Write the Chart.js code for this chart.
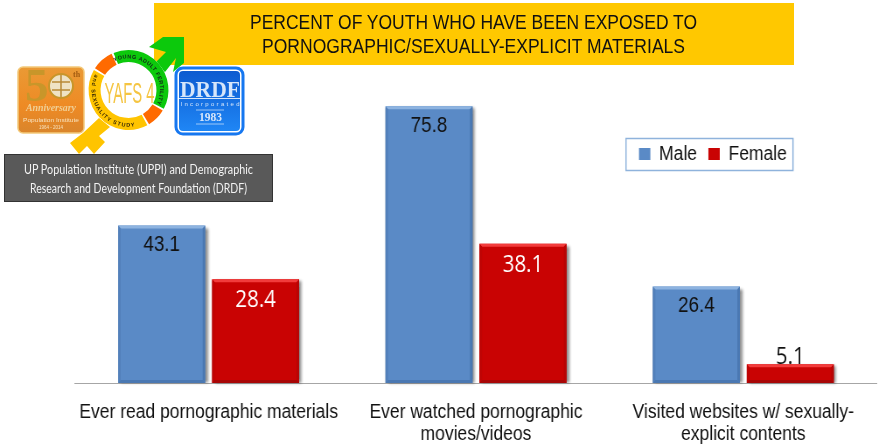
<!DOCTYPE html>
<html><head><meta charset="utf-8">
<style>
html,body{margin:0;padding:0;background:#fff;width:879px;height:446px;overflow:hidden}
#wrap{position:relative;width:879px;height:446px;overflow:hidden}
#c{position:absolute;left:0;top:0;transform-origin:0 0;transform:scaleX(.8746)}
#logos{position:absolute;left:0;top:0}
</style></head><body>
<div id="wrap">
<canvas id="c" width="1005" height="446"></canvas>
<svg id="logos" width="879" height="210" viewBox="0 0 879 210">
<defs>
<linearGradient id="gO" x1="0" y1="0" x2="0" y2="1"><stop offset="0" stop-color="#ea9a35"/><stop offset=".6" stop-color="#ee8a24"/><stop offset="1" stop-color="#d9852c"/></linearGradient>
<linearGradient id="gB" x1="0" y1="0" x2="0" y2="1"><stop offset="0" stop-color="#0d5bd0"/><stop offset="1" stop-color="#1f86f5"/></linearGradient>
<path id="arcT" d="M114.5,61.7 A31.5,31.5 0 0 1 157,103.3"/>
<path id="arcB" d="M95,74.4 A37,37 0 0 0 144.1,123.5"/>
</defs>
<rect x="154" y="3" width="640" height="62" fill="#ffc800"/>
<text x="473.5" y="29" text-anchor="middle" font-family="Liberation Sans" font-size="20" fill="#111" textLength="447" lengthAdjust="spacingAndGlyphs">PERCENT OF YOUTH WHO HAVE BEEN EXPOSED TO</text>
<text x="473.5" y="53" text-anchor="middle" font-family="Liberation Sans" font-size="20" fill="#111" textLength="423" lengthAdjust="spacingAndGlyphs">PORNOGRAPHIC/SEXUALLY-EXPLICIT MATERIALS</text>
<polygon points="163,37 184,37 184,63 173,72 176,58 165,72 155,63 166,52 149,47" fill="#0cc90c"/>
<polygon points="99,118 110,127 99,136 105,142 94,154 87,146 79,154 70,143 83,133" fill="#ffc400"/>
<rect x="18" y="67" width="66" height="66" rx="5" fill="url(#gO)" stroke="#f3c97a" stroke-width="1.5"/>
<text x="25" y="101" font-family="Liberation Serif" font-size="47" font-weight="bold" fill="#c8962a">5</text>
<circle cx="61" cy="86" r="12" fill="#efe3c4" stroke="#c8962a" stroke-width="2"/>
<path d="M52,82 h18 M52,90 h18 M61,75 v22" stroke="#b98a36" stroke-width="1.5"/>
<text x="73" y="77" font-family="Liberation Serif" font-size="8" font-weight="bold" fill="#a05a10">th</text>
<text x="51" y="111" text-anchor="middle" font-family="Liberation Serif" font-size="10" font-style="italic" font-weight="bold" fill="#f0cf95" textLength="50" lengthAdjust="spacingAndGlyphs">Anniversary</text>
<text x="51" y="122" text-anchor="middle" font-family="Liberation Sans" font-size="5" fill="#f8e2bd" textLength="56" lengthAdjust="spacingAndGlyphs">Population Institute</text>
<text x="51" y="129" text-anchor="middle" font-family="Liberation Sans" font-size="4.5" fill="#f8e2bd">1964 - 2014</text>
<circle cx="128.5" cy="90" r="40" fill="#fff"/>
<g fill="none" stroke-width="12">
<path d="M115.8,58.5 A34,34 0 0 1 158.5,106" stroke="#0cc90c"/>
<path d="M144.5,120 A34,34 0 0 1 99.1,73" stroke="#ffc400"/>
<path d="M157.6,107.5 A34,34 0 0 1 146,119.1" stroke="#ff6a00"/>
<path d="M100,71.5 A34,34 0 0 1 114.1,59.2" stroke="#ff6a00"/>
</g>
<text font-family="Liberation Sans" font-size="5.5" font-weight="bold" fill="#13261a"><textPath href="#arcT" textLength="78">YOUNG ADULT FERTILITY</textPath></text>
<text font-family="Liberation Sans" font-size="5.5" font-weight="bold" fill="#3a2a05"><textPath href="#arcB" textLength="80">and SEXUALITY STUDY</textPath></text>
<text x="129.5" y="103" text-anchor="middle" font-family="Liberation Sans" font-size="29" fill="#f5c542" textLength="50" lengthAdjust="spacingAndGlyphs">YAFS 4</text>
<rect x="176" y="68" width="67" height="66" rx="7" fill="#fff" stroke="#1677f0" stroke-width="3"/>
<rect x="179" y="71" width="61" height="60" rx="4" fill="url(#gB)"/>
<text x="210" y="97" text-anchor="middle" font-family="Liberation Serif" font-weight="bold" font-size="24" fill="#d6e6fa" textLength="60" lengthAdjust="spacingAndGlyphs">DRDF</text>
<line x1="179" y1="98.5" x2="240" y2="98.5" stroke="#d6e6fa"/>
<text x="210" y="106" text-anchor="middle" font-family="Liberation Sans" font-size="6" fill="#d6e6fa" textLength="59">Incorporated</text>
<line x1="196" y1="110" x2="224" y2="110" stroke="#d6e6fa" stroke-width=".7"/>
<text x="210.5" y="121" text-anchor="middle" font-family="Liberation Serif" font-weight="bold" font-size="11.5" fill="#d6e6fa">1983</text>
<line x1="196" y1="124" x2="224" y2="124" stroke="#d6e6fa" stroke-width=".7"/>
<rect x="4.5" y="154.5" width="268" height="47" fill="#595959" stroke="#333"/>
<text x="138.5" y="173.5" text-anchor="middle" font-family="Lato" font-size="12.5" fill="#f2f2f2" textLength="229" lengthAdjust="spacingAndGlyphs">UP Population Institute (UPPI) and Demographic</text>
<text x="138.5" y="192.5" text-anchor="middle" font-family="Lato" font-size="12.5" fill="#f2f2f2" textLength="217" lengthAdjust="spacingAndGlyphs">Research and Development Foundation (DRDF)</text>
</svg>
</div>
<script src="https://cdn.jsdelivr.net/npm/chart.js@4"></script>
<script>
const categories=[["Ever read pornographic materials"],["Ever watched pornographic","movies/videos"],["Visited websites w/ sexually-","explicit contents"]];
const maleValues=[43.1,75.8,26.4];
const femaleValues=[28.4,38.1,5.1];
const seriesNames=["Male","Female"];
const S=879/1005;

const bevel={id:'bevel',
 beforeDatasetsDraw(chart){
  const ctx=chart.ctx;
  chart.data.datasets.forEach((ds,i)=>{
   chart.getDatasetMeta(i).data.forEach(b=>{
    ctx.save();
    ctx.shadowColor='rgba(0,0,0,.45)';ctx.shadowBlur=3;ctx.shadowOffsetX=3;ctx.shadowOffsetY=0;
    ctx.fillStyle='#888';
    ctx.fillRect(b.x-b.width/2,b.y+2,b.width,b.base-b.y-2);
    ctx.restore();
   });
  });
 },
 afterDatasetsDraw(chart){
  const ctx=chart.ctx;
  chart.data.datasets.forEach((ds,i)=>{
   chart.getDatasetMeta(i).data.forEach(b=>{
    const l=b.x-b.width/2,r=b.x+b.width/2,t=b.y,bt=b.base,dx=2.5/S,d=3;
    ctx.save();
    ctx.fillStyle=ds.bevelTop;
    ctx.beginPath();ctx.moveTo(l,t);ctx.lineTo(r,t);ctx.lineTo(r-dx,t+d);ctx.lineTo(l+dx,t+d);ctx.closePath();ctx.fill();
    ctx.fillStyle=ds.bevelSide;
    ctx.beginPath();ctx.moveTo(r,t);ctx.lineTo(r,bt);ctx.lineTo(r-dx,bt-d);ctx.lineTo(r-dx,t+d);ctx.closePath();ctx.fill();
    ctx.fillStyle=ds.bevelLeft;
    ctx.beginPath();ctx.moveTo(l,t);ctx.lineTo(l,bt);ctx.lineTo(l+dx,bt-d);ctx.lineTo(l+dx,t+d);ctx.closePath();ctx.fill();
    ctx.fillStyle=ds.bevelBottom;
    ctx.beginPath();ctx.moveTo(l,bt);ctx.lineTo(r,bt);ctx.lineTo(r-dx,bt-d);ctx.lineTo(l+dx,bt-d);ctx.closePath();ctx.fill();
    ctx.restore();
   });
  });
  chart.data.datasets.forEach((ds,i)=>{
   chart.getDatasetMeta(i).data.forEach((b,j)=>{
    const v=ds.data[j];
    ctx.save();
    const small=(b.base-b.y)<40;
    ctx.textAlign='center';ctx.textBaseline='middle';
    ctx.font=ds.valueFont;
    ctx.fillStyle=ds.valueColor[j];
    ctx.fillText(v.toFixed(1),b.x,small?b.y-7:b.y+ds.valueOffset);
    ctx.restore();
   });
  });
 }};
const legendMove={id:'legendMove',
 afterLayout(chart){
  const L=chart.legend,w=L.right-L.left,h=L.bottom-L.top,pad=L.options.labels.padding;
  L.left=639/S-pad;L.right=L.left+w;L.top=154-10-pad;L.bottom=L.top+h;
 },
 afterDraw(chart){
  const ctx=chart.ctx;ctx.save();ctx.strokeStyle='#8fb3dc';ctx.lineWidth=1.5;
  ctx.strokeRect(626/S,138.5,167/S,32);ctx.restore();
 }};
new Chart(document.getElementById('c'),{
 type:'bar',
 data:{labels:categories,datasets:[
  {label:seriesNames[0],data:maleValues,backgroundColor:'#5a8ac6',bevelTop:'#8db3e0',bevelSide:'#4a78b2',bevelLeft:'#5280bb',bevelBottom:'#4a78b2',valueColor:['#111','#111','#111'],valueOffset:19.5,valueFont:'21.5px "Liberation Sans"'},
  {label:seriesNames[1],data:femaleValues,backgroundColor:'#c90303',bevelTop:'#f23c3c',bevelSide:'#b80505',bevelLeft:'#bf0404',bevelBottom:'#a80606',valueColor:['#fff','#fff','#111'],valueOffset:21.5,valueFont:'23.5px "Open Sans"'}
 ]},
 plugins:[bevel,legendMove],
 options:{responsive:false,animation:false,devicePixelRatio:1,
  layout:{padding:{left:75/S,right:2/S,top:0,bottom:0}},
  datasets:{bar:{categoryPercentage:.703,barPercentage:.9255}},
  plugins:{title:{display:false},tooltip:{enabled:false},
   legend:{position:'top',align:'start',labels:{boxWidth:13,boxHeight:12,padding:13,color:'#111',font:{family:'"Liberation Sans"',size:20}}}},
  scales:{
   x:{grid:{display:false,drawTicks:false},border:{color:'#a6a6a6',width:1},afterFit(s){s.height=63;},ticks:{color:'#111',padding:18,maxRotation:0,autoSkip:false,font:{family:'"Liberation Sans"',size:20,lineHeight:1.1}}},
   y:{display:false,min:0,max:93.1}
  }}
});
</script>
</body></html>
